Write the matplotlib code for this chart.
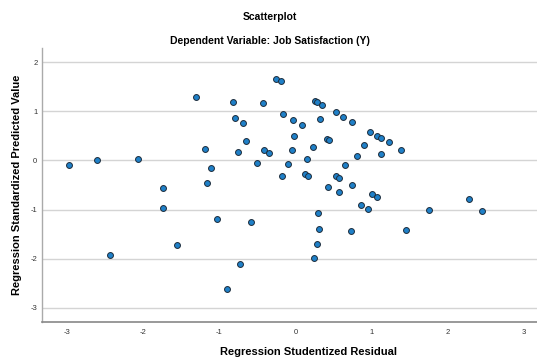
import numpy as np
import matplotlib
matplotlib.use("Agg")
import matplotlib.pyplot as plt

plt.rcParams["font.family"] = ["Liberation Sans", "DejaVu Sans"]

# ---------------- data ----------------
resid = [
    -0.257, -0.187, -1.305, -0.818, -0.430, -0.164, -0.796, -0.687, -0.651, -1.195,
    -0.757, -0.412, -0.349, -0.050, -2.984, -2.608, -2.076, -1.109, -0.511, -0.096,
    -0.182, -1.161, -1.743, 0.253, 0.279, 0.349, -0.029, 0.086, 0.326, 0.529,
    0.625, 0.739, -0.013, 0.411, 0.437, 0.976, 1.076, 1.121, 1.230, 1.386,
    0.905, 1.121, 0.813, 0.226, 0.147, 0.651, 0.128, 0.162, 0.533, 0.568,
    0.428, 0.739, 0.572, 1.011, 1.076, 0.858, 0.950, 0.300, 1.761, 2.287,
    2.454, 0.305, 0.726, 1.454, 0.287, 0.243, -1.743, -1.037, -0.586, -1.563,
    -2.441, -0.730, -0.897,
]
pred = [
    1.667, 1.610, 1.300, 1.202, 1.178, 0.947, 0.862, 0.764, 0.407, 0.240,
    0.179, 0.208, 0.147, 0.204, -0.092, 0.010, 0.026, -0.153, -0.047, -0.081,
    -0.322, -0.452, -0.556, 1.218, 1.198, 1.137, 0.831, 0.729, 0.839, 0.982,
    0.886, 0.784, 0.493, 0.438, 0.418, 0.581, 0.493, 0.452, 0.371, 0.220,
    0.316, 0.132, 0.086, 0.275, 0.026, -0.092, -0.279, -0.310, -0.310, -0.350,
    -0.540, -0.499, -0.648, -0.689, -0.750, -0.907, -0.994, -1.070, -1.015, -0.789,
    -1.033, -1.396, -1.443, -1.416, -1.701, -1.987, -0.974, -1.192, -1.263, -1.716,
    -1.930, -2.115, -2.624,
]
xticks = [-3, -2, -1, 0, 1, 2, 3]
yticks = [-3, -2, -1, 0, 1, 2]

# ---------------- figure ----------------
fig = plt.figure(figsize=(5.37, 3.61), dpi=100)
ax = fig.add_axes([0.0773, 0.109, 0.9227, 0.758])

ax.scatter(resid, pred, s=18, color="#1f80c8", edgecolors="#1c2b3a",
           linewidths=0.7, zorder=3)

ax.set_xlim(-3.342, 3.178)
ax.set_ylim(-3.284, 2.292)
ax.set_xticks(xticks)
ax.set_yticks(yticks)
ax.set_xticklabels([str(t) for t in xticks])
ax.set_yticklabels([str(t) for t in yticks])
ax.tick_params(length=0, labelsize=5.5, labelcolor="#333333")
ax.tick_params(axis="x", pad=5)
ax.tick_params(axis="y", pad=3)

ax.grid(axis="y", color="#d4d4d4", linewidth=1.0)
ax.set_axisbelow(True)

for s in ["top", "right"]:
    ax.spines[s].set_visible(False)
ax.spines["left"].set_color("#aaaaaa")
ax.spines["bottom"].set_color("#888888")
ax.spines["left"].set_linewidth(1.0)
ax.spines["bottom"].set_linewidth(1.2)

ax.set_xlabel("Regression Studentized Residual", fontsize=8, fontweight="bold")
ax.xaxis.set_label_coords((308 - 41.5) / (537 - 41.5), -0.094)
ax.set_ylabel("Regression Standardized Predicted Value", fontsize=8,
              fontweight="bold")
ax.yaxis.set_label_coords(-0.04, 0.5)

fig.text(270 / 537, 1 - 17 / 361, "Scatterplot", ha="center", va="center",
         fontsize=7.5, fontweight="bold")
fig.text(270 / 537, 1 - 41 / 361, "Dependent Variable: Job Satisfaction (Y)",
         ha="center", va="center", fontsize=7.5, fontweight="bold")

fig.savefig("out.png", dpi=100)
